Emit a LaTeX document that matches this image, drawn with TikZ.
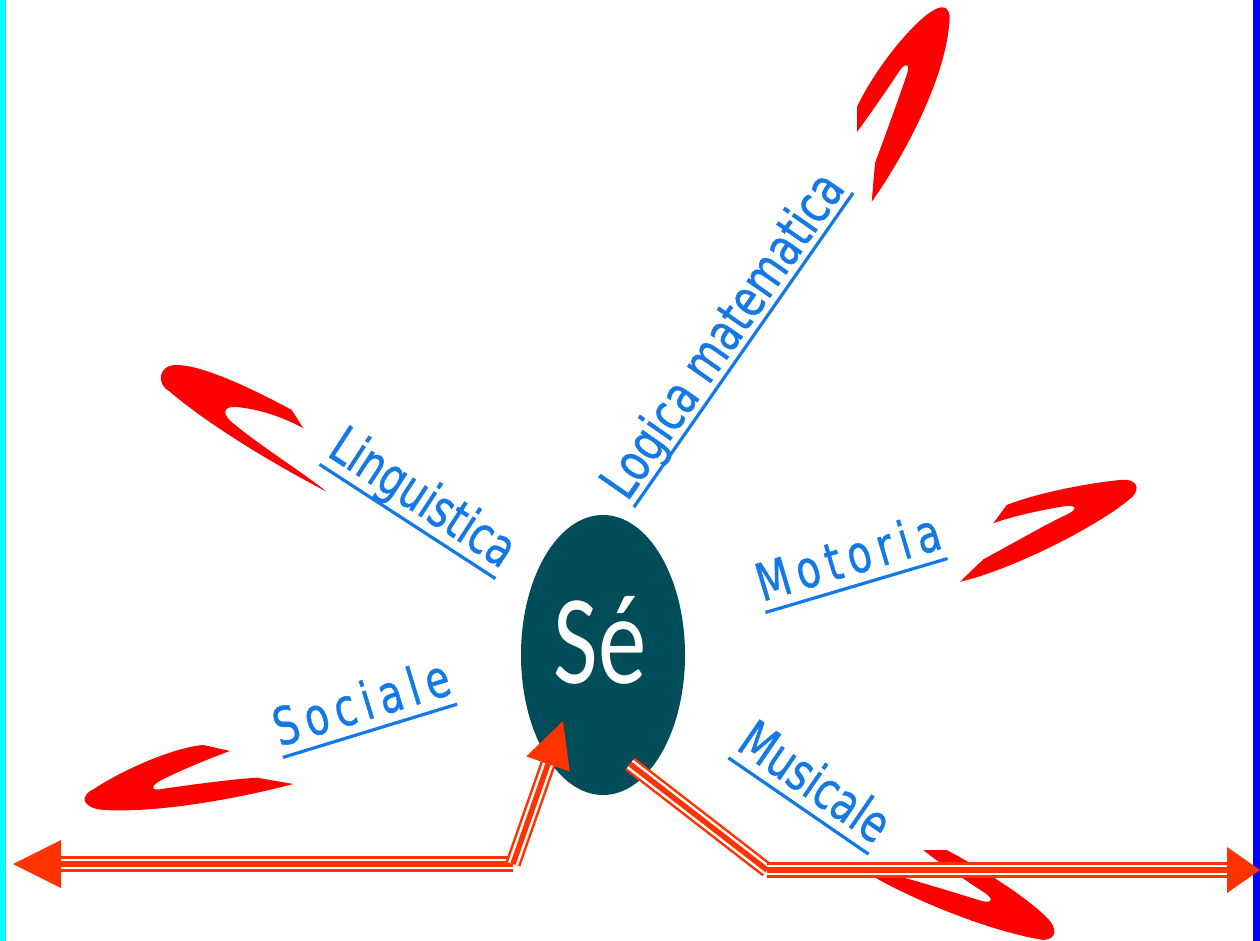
\documentclass[tikz,border=0pt]{standalone}
\usepackage{fontspec}
\usepackage{graphicx}
\usetikzlibrary{shapes.geometric}
\setmainfont{DejaVu Sans}
\newfontfamily\lblfont[FakeBold=1]{DejaVu Sans}
\newfontfamily\lblspaced[LetterSpace=18,FakeBold=1]{DejaVu Sans}
\newfontfamily\sefont{Carlito}
\definecolor{hookred}{RGB}{255,0,0}
\definecolor{arrred}{RGB}{255,51,0}
\definecolor{seteal}{RGB}{0,77,90}
\definecolor{lblblue}{RGB}{20,120,230}
\definecolor{bandcyan}{RGB}{0,255,255}
\definecolor{bandblue}{RGB}{0,0,255}
\begin{document}
\begin{tikzpicture}[x={(1pt,0)}, y={(0,-1pt)},
  lbl/.style={inner sep=0pt, anchor=south, text=lblblue,
    font=\lblfont\fontsize{52}{60}\selectfont, text depth=11pt},
  lblsp/.style={lbl, font=\lblspaced\fontsize{52}{60}\selectfont},
  uline/.style={draw=lblblue, line width=3.2pt},
  hook/.style={fill=hookred},
  tripleline/.style={draw=white, line width=10.5pt,
    preaction={draw=arrred, line width=15.5pt},
    postaction={draw=arrred, line width=5.5pt}},
  headfill/.style={fill=arrred}
]
\useasboundingbox (0,0) rectangle (1260,941);
\fill[white] (0,0) rectangle (1260,941);
\fill[bandcyan] (0,0) rectangle (6,941);
\fill[bandblue] (1253,0) rectangle (1260,941);

% red hooks
\fill[hook] (871.7,201.7) -- (875,163) .. controls (888,128) and (901,92) .. (907,74)
  .. controls (910,64) and (906,62) .. (900,70)
  .. controls (887,90) and (868,117) .. (857,132) -- (857,107)
  .. controls (873,72) and (912,22) .. (934,10)
  .. controls (946,3) and (952,10) .. (949,26)
  .. controls (944,80) and (905,155) .. (871.7,201.7) -- cycle;
\fill[hook] (960,581.7) -- (983.3,559.3) .. controls (1010,545) and (1050,522) .. (1068,514)
  .. controls (1078,509) and (1076,505) .. (1066,506)
  .. controls (1040,510) and (1010,517) .. (993.3,523.3) -- (1006.7,505)
  .. controls (1040,492) and (1090,483) .. (1120,480)
  .. controls (1136,478) and (1142,488) .. (1131,498)
  .. controls (1100,525) and (1012,570) .. (960,581.7) -- cycle;
\fill[hook] (291.7,410) .. controls (255,390) and (205,366) .. (178,365)
  .. controls (158,364) and (156,384) .. (169,391)
  .. controls (212,428) and (283,469) .. (326.7,491.7)
  .. controls (302,472) and (262,447) .. (234,424)
  .. controls (222,415) and (222,406) .. (236,407)
  .. controls (260,409) and (285,418) .. (303.3,428.3) -- cycle;
\fill[hook] (203.3,745) -- (230,751) .. controls (205,760) and (170,775) .. (158,782)
  .. controls (150,787) and (152,791) .. (162,789)
  .. controls (195,784) and (235,779) .. (256.7,777.7) -- (293.3,784)
  .. controls (240,798) and (160,813) .. (105,810)
  .. controls (83,809) and (78,796) .. (94,789)
  .. controls (122,770) and (175,747) .. (203.3,745) -- cycle;
\fill[hook] (923.3,850) -- (946.7,850) .. controls (988,872) and (1033,902) .. (1049,920)
  .. controls (1060,932) and (1053,943) .. (1038,939)
  .. controls (985,930) and (895,893) .. (856.7,866)
  .. controls (900,875) and (955,893) .. (982,901)
  .. controls (993,904) and (993,898) .. (985,893)
  .. controls (965,880) and (935,860) .. (923.3,850) -- cycle;

% labels
\node[lbl, rotate=-33] (lin) at (407.5,521.5) {\scalebox{0.75}[1]{Linguistica}};
\draw[uline] (lin.south west) -- (lin.south east);
\node[lbl, rotate=55.1, text depth=8pt] (log) at (743.5,350) {\scalebox{0.77}[1]{Logica matematica}};
\draw[uline] (log.south west) -- (log.south east);
\node[lblsp, rotate=16.5] (mot) at (856.5,585.5) {\scalebox{0.75}[1]{Motoria}};
\draw[uline] (mot.south west) -- (mot.south east);
\node[lblsp, rotate=17] (soc) at (370,730.8) {\scalebox{0.75}[1]{Sociale}};
\draw[uline] (soc.south west) -- (soc.south east);
\node[lbl, rotate=-34.5] (mus) at (798.5,806) {\scalebox{0.75}[1]{Musicale}};
\draw[uline] (mus.south west) -- (mus.south east);

% centre
\node[ellipse, fill=seteal, minimum width=164pt, minimum height=280pt, inner sep=0pt] (se) at (603,655) {};
\node[text=white, inner sep=0pt, anchor=base, font=\sefont\fontsize{102}{110}\selectfont] (setxt) at (600,683) {\scalebox{0.95}[1.25]{Sé}};

% arrows
\coordinate (tipL) at (13,864);
\coordinate (baseL) at (61,864);
\coordinate (cornerL) at (513,864);
\coordinate (baseU) at (548,764);
\coordinate (tipU) at (563,721);
\coordinate (startR) at (630,764);
\coordinate (cornerR) at (767,870);
\coordinate (baseR) at (1227,870);
\coordinate (tipR) at (1260,870);

\draw[tripleline] (baseL) -- (cornerL);
\draw[tripleline] (cornerL) -- (baseU);
\fill[headfill] (tipL) -- (61,840) -- (61,888) -- cycle;
\fill[headfill] (tipU) -- (569.7,771.6) -- (526.3,756.4) -- cycle;

\draw[tripleline] (startR) -- (cornerR);
\draw[tripleline] (cornerR) -- (baseR);
\fill[headfill] (tipR) -- (1227,847) -- (1227,893) -- cycle;
\end{tikzpicture}
\end{document}
